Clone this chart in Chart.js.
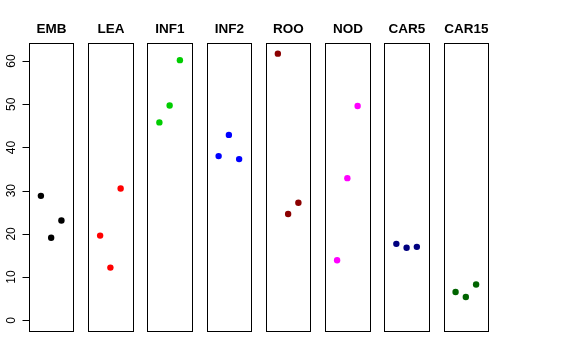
<!DOCTYPE html>
<html><head><meta charset="utf-8">
<script src="https://cdn.jsdelivr.net/npm/chart.js@4/dist/chart.umd.min.js"></script>
<style>html,body{margin:0;padding:0;background:#fff}#wrap{width:576px;height:360px}</style>
</head><body><div id="wrap"><canvas id="c" width="576" height="360"></canvas></div>
<script>
const categories = ["EMB","LEA","INF1","INF2","ROO","NOD","CAR5","CAR15"];
const colors = ["#000000","#FF0000","#00CD00","#0000FF","#8B0000","#FF00FF","#000080","#006400"];
const valEMB = [28.8, 19.1, 23.1];
const valLEA = [19.6, 12.2, 30.5];
const valINF1 = [45.8, 49.7, 60.2];
const valINF2 = [38.0, 42.9, 37.3];
const valROO = [61.7, 24.6, 27.2];
const valNOD = [13.9, 32.9, 49.6];
const valCAR5 = [17.7, 16.8, 17.0];
const valCAR15 = [6.55, 5.4, 8.3];
const yTicks = [0, 10, 20, 30, 40, 50, 60];
const series = [valEMB, valLEA, valINF1, valINF2, valROO, valNOD, valCAR5, valCAR15];

const S = 5.775;          // panel spacing in x units
const PL = -0.16, PR = 4.16; // panel extent (xlim 0..4 plus 4%)
const yMin = -2.47, yMax = 64.17;

const datasets = categories.map((c, i) => ({
  label: c,
  data: series[i].map((v, j) => ({x: i * S + j + 1, y: v})),
  backgroundColor: colors[i],
  borderWidth: 0,
  pointRadius: 3.2,
  pointHoverRadius: 3.2
}));

const panels = {
  id: 'panels',
  afterDatasetsDraw(chart) {
    const {ctx, chartArea, scales: {x, y}} = chart;
    ctx.save();
    ctx.strokeStyle = '#000';
    ctx.lineWidth = 1;
    categories.forEach((c, i) => {
      const l = Math.round(x.getPixelForValue(i * S + PL)) + 0.5;
      const r = Math.round(x.getPixelForValue(i * S + PR)) + 0.5;
      const t = Math.round(chartArea.top) + 0.5;
      const b = Math.round(chartArea.bottom) + 0.5;
      ctx.strokeRect(l, t, r - l, b - t);
      ctx.fillStyle = '#000';
      ctx.font = 'bold 13.5px "Liberation Sans", Arial, sans-serif';
      ctx.textAlign = 'center';
      ctx.textBaseline = 'middle';
      ctx.fillText(c, (l + r) / 2, 29.5);
    });
    // y axis ticks and labels
    const ax = Math.round(x.getPixelForValue(PL)) + 0.5;
    ctx.beginPath();
    ctx.moveTo(ax, Math.round(y.getPixelForValue(yTicks[0])) + 0.5);
    ctx.lineTo(ax, Math.round(y.getPixelForValue(yTicks[yTicks.length - 1])) + 0.5);
    ctx.stroke();
    ctx.font = '12px "Liberation Sans", Arial, sans-serif';
    yTicks.forEach(v => {
      const py = Math.round(y.getPixelForValue(v)) + 0.5;
      ctx.beginPath();
      ctx.moveTo(ax - 7, py);
      ctx.lineTo(ax, py);
      ctx.stroke();
      ctx.save();
      ctx.translate(14.5, y.getPixelForValue(v));
      ctx.rotate(-Math.PI / 2);
      ctx.textAlign = 'center';
      ctx.textBaseline = 'alphabetic';
      ctx.fillText(String(v), 0, 0);
      ctx.restore();
    });
    ctx.restore();
  }
};

new Chart(document.getElementById('c'), {
  type: 'scatter',
  data: {datasets},
  options: {
    responsive: false,
    animation: false,
    events: [],
    layout: {padding: {left: 29, right: 88, top: 43, bottom: 29}},
    plugins: {legend: {display: false}, tooltip: {enabled: false}},
    scales: {
      x: {type: 'linear', display: false, min: PL, max: 7 * S + PR},
      y: {type: 'linear', display: false, min: yMin, max: yMax}
    }
  },
  plugins: [panels]
});
</script></body></html>
